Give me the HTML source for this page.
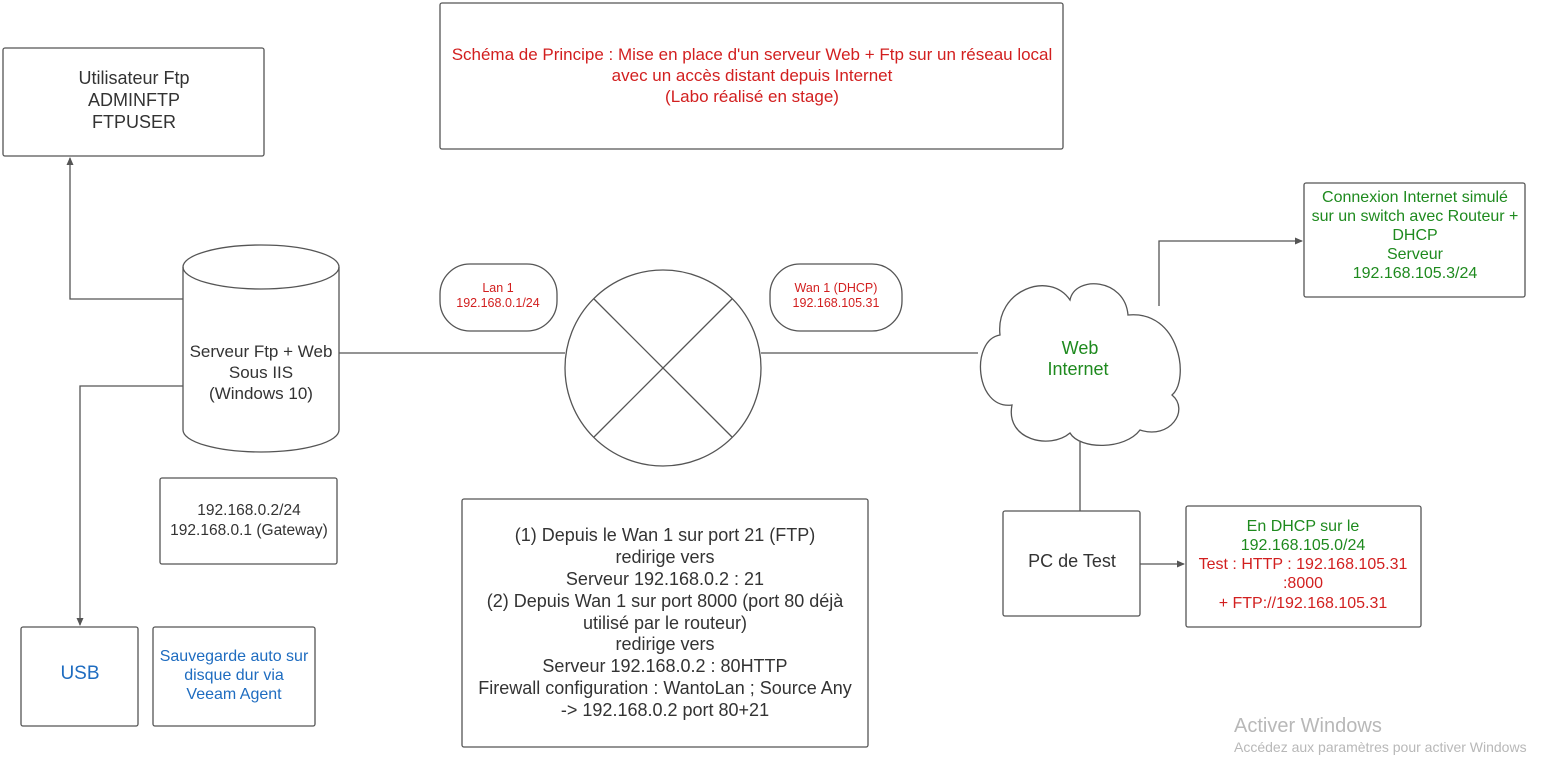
<!DOCTYPE html>
<html><head><meta charset="utf-8"><style>
body{margin:0;background:#fff;width:1545px;height:760px;overflow:hidden}
svg text{font-family:"Liberation Sans",sans-serif}
</style></head><body>
<svg width="1545" height="760" viewBox="0 0 1545 760" xmlns="http://www.w3.org/2000/svg">
<defs><marker id="a" markerWidth="8" markerHeight="8" refX="7" refY="4" orient="auto" markerUnits="userSpaceOnUse"><path d="M0,0.5 L8,4 L0,7.5Z" fill="#555"/></marker></defs>
<g fill="none" stroke="#555" stroke-width="1.3">
<rect x="3" y="48" width="261" height="108" rx="2"/>
<rect x="440" y="3" width="623" height="146" rx="2"/>
<rect x="1304" y="183" width="221" height="114" rx="2"/>
<rect x="160" y="478" width="177" height="86" rx="2"/>
<rect x="21" y="627" width="117" height="99" rx="2"/>
<rect x="153" y="627" width="162" height="99" rx="2"/>
<rect x="462" y="499" width="406" height="248" rx="2"/>
<rect x="1003" y="511" width="137" height="105" rx="2"/>
<rect x="1186" y="506" width="235" height="121" rx="2"/>
<rect x="440" y="264" width="117" height="67" rx="30"/>
<rect x="770" y="264" width="132" height="67" rx="30"/>
<path d="M183,267 L183,430 A78,22 0 0 0 339,430 L339,267"/>
<ellipse cx="261" cy="267" rx="78" ry="22"/>
<circle cx="663" cy="368" r="98"/>
<line x1="594" y1="299" x2="732" y2="437"/>
<line x1="732" y1="299" x2="594" y2="437"/>
<path d="M1000 335 C995 290 1050 270 1070 300 C1075 275 1125 278 1128 315 C1180 310 1190 380 1172 395 C1190 410 1170 440 1140 430 C1125 450 1080 450 1070 433 C1050 450 1005 440 1012 405 C975 410 970 340 1000 335Z" fill="#fff"/>
<line x1="339" y1="353" x2="565" y2="353"/>
<line x1="761" y1="353" x2="978" y2="353"/>
<line x1="1080" y1="442" x2="1080" y2="511"/>
<path d="M183,299 L70,299 L70,158" marker-end="url(#a)"/>
<path d="M183,386 L80,386 L80,625" marker-end="url(#a)"/>
<path d="M1159,306 L1159,241 L1302,241" marker-end="url(#a)"/>
<path d="M1140,564 L1184,564" marker-end="url(#a)"/>
</g>
<g font-size="17" text-anchor="middle" fill="#333">
<text x="134" y="84" font-size="18">Utilisateur Ftp</text>
<text x="134" y="106" font-size="18">ADMINFTP</text>
<text x="134" y="128" font-size="18">FTPUSER</text>
<text x="261" y="357">Serveur Ftp + Web</text>
<text x="261" y="378">Sous IIS</text>
<text x="261" y="399">(Windows 10)</text>
<text x="249" y="515" font-size="15.5">192.168.0.2/24</text>
<text x="249" y="535" font-size="15.5">192.168.0.1 (Gateway)</text>
<text x="1072" y="567" font-size="18">PC de Test</text>
<g font-size="18"><text x="665" y="541">(1) Depuis le Wan 1 sur port 21 (FTP)</text>
<text x="665" y="563">redirige vers</text>
<text x="665" y="585">Serveur 192.168.0.2 : 21</text>
<text x="665" y="607">(2) Depuis Wan 1 sur port 8000 (port 80 déjà</text>
<text x="665" y="629">utilisé par le routeur)</text>
<text x="665" y="650">redirige vers</text>
<text x="665" y="672">Serveur 192.168.0.2 : 80HTTP</text>
<text x="665" y="694">Firewall configuration : WantoLan ; Source Any</text>
<text x="665" y="716">-&gt; 192.168.0.2 port 80+21</text></g>
</g>
<g text-anchor="middle" fill="#d21f1f">
<text x="752" y="60" font-size="17">Schéma de Principe : Mise en place d'un serveur Web + Ftp sur un réseau local</text>
<text x="752" y="81" font-size="17">avec un accès distant depuis Internet</text>
<text x="752" y="102" font-size="17">(Labo réalisé en stage)</text>
<text x="498" y="292" font-size="12.5">Lan 1</text>
<text x="498" y="307" font-size="12.5">192.168.0.1/24</text>
<text x="836" y="292" font-size="12.5">Wan 1 (DHCP)</text>
<text x="836" y="307" font-size="12.5">192.168.105.31</text>
<text x="1303" y="569" font-size="16">Test : HTTP : 192.168.105.31</text>
<text x="1303" y="588" font-size="16">:8000</text>
<text x="1303" y="608" font-size="16">+ FTP://192.168.105.31</text>
</g>
<g text-anchor="middle" fill="#1e8a1e">
<text x="1415" y="202" font-size="16">Connexion Internet simulé</text>
<text x="1415" y="221" font-size="16">sur un switch avec Routeur +</text>
<text x="1415" y="240" font-size="16">DHCP</text>
<text x="1415" y="259" font-size="16">Serveur</text>
<text x="1415" y="278" font-size="16">192.168.105.3/24</text>
<text x="1080" y="354" font-size="18">Web</text>
<text x="1078" y="375" font-size="18">Internet</text>
<text x="1303" y="531" font-size="16">En DHCP sur le</text>
<text x="1303" y="550" font-size="16">192.168.105.0/24</text>
</g>
<g text-anchor="middle" fill="#1e6cc0">
<text x="80" y="679" font-size="19">USB</text>
<text x="234" y="661" font-size="16">Sauvegarde auto sur</text>
<text x="234" y="680" font-size="16">disque dur via</text>
<text x="234" y="699" font-size="16">Veeam Agent</text>
</g>
<text x="1234" y="732" font-size="20" fill="#b8b8b8">Activer Windows</text>
<text x="1234" y="752" font-size="14" fill="#b8b8b8">Accédez aux paramètres pour activer Windows</text>
</svg>
</body></html>
